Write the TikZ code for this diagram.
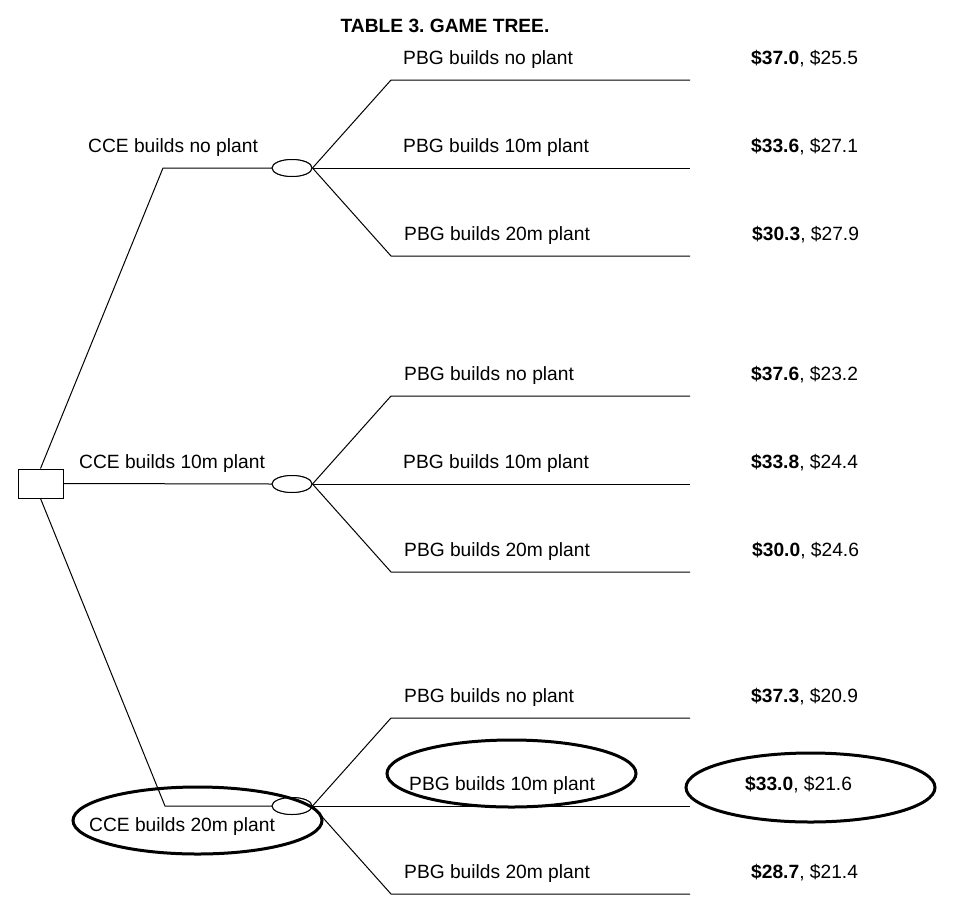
\documentclass[tikz,border=0pt]{standalone}
\usepackage{fontspec}
\setmainfont{Liberation Sans}
\frenchspacing
\usetikzlibrary{shapes.geometric}
\begin{document}
\begin{tikzpicture}[x=1pt,y=-1pt,
  lbl/.style={anchor=base west,inner sep=0pt,font=\fontsize{19.2}{22}\selectfont},
  ttl/.style={anchor=base,inner sep=0pt,font=\fontsize{19.2}{22}\selectfont\bfseries},
  edge/.style={line width=1pt},
  chance/.style={draw,ellipse,line width=1pt,minimum width=40pt,minimum height=17pt,inner sep=0pt,fill=white},
  decision/.style={draw,rectangle,line width=1pt,minimum width=45pt,minimum height=29pt,inner sep=0pt},
  hl/.style={draw,ellipse,line width=3pt,minimum width=249pt,minimum height=67pt,inner sep=0pt}
]
\useasboundingbox (0,0) rectangle (974,910);
\node[ttl] (title) at (445,32) {TABLE 3. GAME TREE.};

% decision node
\node[decision] (d) at (40.5,483.5) {};
% chance nodes
\node[chance] (c1) at (292,168) {};
\node[chance] (c2) at (292,484) {};
\node[chance] (c3) at (292,806) {};

% corners
\coordinate (k1) at (163,168);
\coordinate (k3) at (165,806);

\draw[edge] (d.north) -- (k1) -- (c1.west);
\draw[edge] (d.east) -- (c2.west);
\draw[edge] (d.south) -- (k3) -- (c3.west);

% branches
\foreach \g/\y in {1/168,2/484,3/806}{
  \coordinate (b\g1) at (391,\y-88);
  \coordinate (e\g1) at (690,\y-88);
  \coordinate (e\g2) at (690,\y);
  \coordinate (b\g3) at (391,\y+88);
  \coordinate (e\g3) at (690,\y+88);
  \draw[edge] (c\g.east) -- (b\g1) -- (e\g1);
  \draw[edge] (c\g.east) -- (e\g2);
  \draw[edge] (c\g.east) -- (b\g3) -- (e\g3);
}
% redraw chance nodes on top
\node[chance] at (c1) {};
\node[chance] at (c2) {};
\node[chance] at (c3) {};

% CCE labels
\node[lbl] (l1) at (88,152) {CCE builds no plant};
\node[lbl] (l2) at (79,468) {CCE builds 10m plant};
\node[lbl] (l3) at (89,831) {CCE builds 20m plant};

% PBG labels
\node[lbl] (p11) at (403,64) {PBG builds no plant};
\node[lbl] (p12) at (403,152) {PBG builds 10m plant};
\node[lbl] (p13) at (404,240) {PBG builds 20m plant};
\node[lbl] (p21) at (404,380) {PBG builds no plant};
\node[lbl] (p22) at (403,468) {PBG builds 10m plant};
\node[lbl] (p23) at (404,556) {PBG builds 20m plant};
\node[lbl] (p31) at (404,702) {PBG builds no plant};
\node[lbl] (p32) at (409,790) {PBG builds 10m plant};
\node[lbl] (p33) at (404,878) {PBG builds 20m plant};

% payoffs
\node[lbl] (v11) at (751,64) {\textbf{\$37.0}, \$25.5};
\node[lbl] (v12) at (751,152) {\textbf{\$33.6}, \$27.1};
\node[lbl] (v13) at (752,240) {\textbf{\$30.3}, \$27.9};
\node[lbl] (v21) at (751,380) {\textbf{\$37.6}, \$23.2};
\node[lbl] (v22) at (751,468) {\textbf{\$33.8}, \$24.4};
\node[lbl] (v23) at (752,556) {\textbf{\$30.0}, \$24.6};
\node[lbl] (v31) at (751,702) {\textbf{\$37.3}, \$20.9};
\node[lbl] (v32) at (745,790) {\textbf{\$33.0}, \$21.6};
\node[lbl] (v33) at (751,878) {\textbf{\$28.7}, \$21.4};

% highlight ellipses
\node[hl] (h1) at (197.5,820.5) {};
\node[hl] (h2) at (511.5,773.5) {};
\node[hl,minimum height=69pt] (h3) at (810.5,787.5) {};
\end{tikzpicture}
\end{document}
